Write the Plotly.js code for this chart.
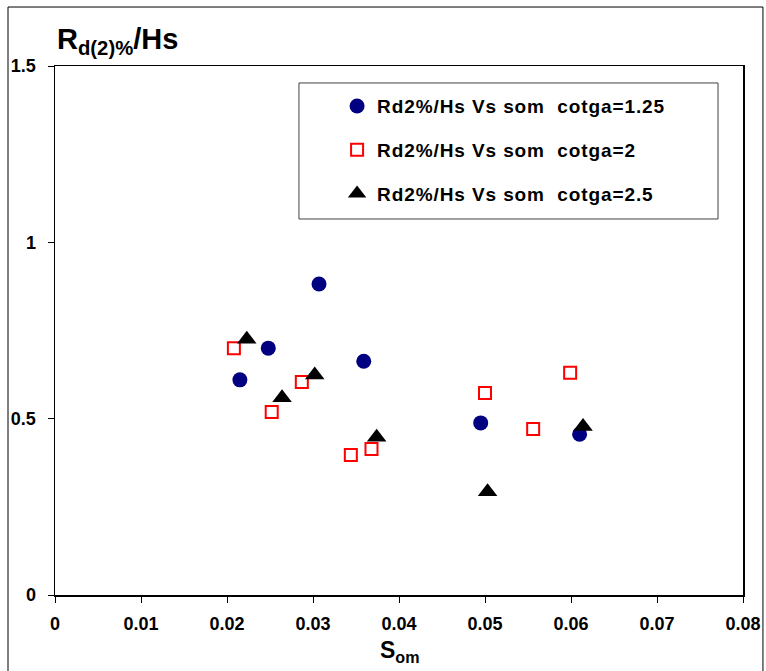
<!DOCTYPE html>
<html>
<head>
<meta charset="utf-8">
<script src="https://cdn.plot.ly/plotly-3.0.1.min.js"></script>
<style>
  html, body { margin: 0; padding: 0; background: #fff; }
  #chart { width: 766px; height: 671px; }
  #chart .legendtext { letter-spacing: 0.9px; }
  #chart g.legend, #chart g.legend g { clip-path: none !important; }
</style>
</head>
<body>
<div id="chart"></div>
<script>
// Series 1: cotga = 1.25
const somA = [0.0215, 0.0248, 0.0307, 0.0359, 0.0495, 0.0610];
const rdA  = [0.610, 0.700, 0.882, 0.663, 0.488, 0.456];
// Series 2: cotga = 2
const somB = [0.0208, 0.0252, 0.0287, 0.0344, 0.0368, 0.0500, 0.0556, 0.0599];
const rdB  = [0.700, 0.519, 0.604, 0.397, 0.414, 0.573, 0.471, 0.630];
// Series 3: cotga = 2.5
const somC = [0.0223, 0.0264, 0.0302, 0.0374, 0.0503, 0.0614];
const rdC  = [0.725, 0.559, 0.624, 0.447, 0.293, 0.478];

const names = [
  "Rd2%/Hs Vs som\u00a0\u00a0cotga=1.25",
  "Rd2%/Hs Vs som\u00a0\u00a0cotga=2",
  "Rd2%/Hs Vs som\u00a0\u00a0cotga=2.5"
];
const xTickVals = [0, 0.01, 0.02, 0.03, 0.04, 0.05, 0.06, 0.07, 0.08];
const xTickText = ["0", "0.01", "0.02", "0.03", "0.04", "0.05", "0.06", "0.07", "0.08"];
const yTickVals = [0, 0.5, 1, 1.5];
const yTickText = ["0", "0.5", "1", "1.5"];

const FONT = "Arial, 'Liberation Sans', sans-serif";

const traces = [
  { x: somA, y: rdA, name: names[0], legendgroup: "a", type: "scatter", mode: "markers",
    marker: { symbol: "circle", size: 15, color: "#000080" } },
  { x: somB, y: rdB, name: names[1], legendgroup: "b", type: "scatter", mode: "markers",
    marker: { symbol: "square-open", size: 12, color: "#FF0000", line: { width: 2, color: "#FF0000" } } },
  { x: somC, y: rdC, name: names[2], legendgroup: "c", type: "scatter", mode: "markers",
    marker: { symbol: "triangle-up", size: 17, color: "#000000" } }
];

const layout = {
  width: 766, height: 671,
  margin: { l: 55, r: 23, t: 66, b: 76 },
  paper_bgcolor: "#ffffff", plot_bgcolor: "#ffffff",
  font: { family: FONT, color: "#000" },
  showlegend: true,
  legend: {
    x: 0.41, y: 0.96, xanchor: "left", yanchor: "top",
    bgcolor: "rgba(0,0,0,0)", borderwidth: 0,
    tracegroupgap: 16,
    font: { family: FONT, size: 19, weight: "bold", color: "#000" }
  },
  xaxis: {
    range: [0, 0.08], tickvals: xTickVals, ticktext: xTickText,
    showgrid: false, zeroline: false,
    showline: true, mirror: true, linecolor: "#000", linewidth: 1.5,
    ticks: "outside", ticklen: 6, tickcolor: "#000", tickwidth: 1,
    ticklabelstandoff: 6,
    tickfont: { family: FONT, size: 18, weight: "bold", color: "#000" }
  },
  yaxis: {
    range: [0, 1.5], tickvals: yTickVals, ticktext: yTickText,
    showgrid: false, zeroline: false,
    showline: true, mirror: true, linecolor: "#000", linewidth: 1.5,
    ticks: "outside", ticklen: 6, tickcolor: "#000", tickwidth: 1,
    ticklabelstandoff: 8,
    tickfont: { family: FONT, size: 18, weight: "bold", color: "#000" }
  },
  shapes: [
    // outer chart frame
    { type: "rect", xref: "paper", yref: "paper",
      x0: -0.0683, x1: 1.029, y0: -0.16, y1: 1.1115,
      line: { color: "#000", width: 1 }, fillcolor: "rgba(0,0,0,0)" },
    // legend box
    { type: "rect", xref: "paper", yref: "paper",
      x0: 0.3546, x1: 0.9637, y0: 0.7108, y1: 0.9679,
      line: { color: "#404040", width: 1 }, fillcolor: "rgba(0,0,0,0)", layer: "below" }
  ],
  annotations: [
    { xref: "paper", yref: "paper", x: 0.0, y: 1.010, xanchor: "left", yanchor: "bottom",
      showarrow: false,
      text: "<b>R<sub>d(2)%</sub>/Hs</b>",
      font: { family: FONT, size: 29, color: "#000" } },
    { xref: "paper", yref: "paper", x: 0.5, y: -0.075, xanchor: "center", yanchor: "top",
      showarrow: false,
      text: "<b>S<sub>om</sub></b>",
      font: { family: FONT, size: 23, color: "#000" } }
  ]
};

Plotly.newPlot("chart", traces, layout, { displayModeBar: false, staticPlot: true });
</script>
</body>
</html>
